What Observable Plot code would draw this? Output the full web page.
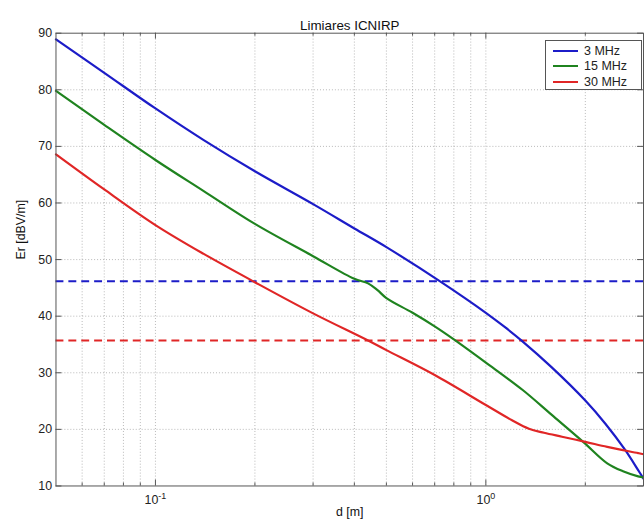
<!DOCTYPE html>
<html>
<head>
<meta charset="utf-8">
<script src="https://cdn.jsdelivr.net/npm/d3@7"></script>
<script src="https://cdn.jsdelivr.net/npm/@observablehq/plot@0.6"></script>
<style>
html, body { margin: 0; padding: 0; background: #fff; overflow: hidden; }
#wrap { position: relative; width: 644px; height: 528px; overflow: hidden; }
#wrap svg { position: absolute; left: 0; top: 0; }
.legend { position: absolute; left: 545px; top: 40px; width: 97px; height: 50px; border: 1px solid #555;
  background: #fff; box-sizing: border-box; font: 12.5px "Liberation Sans", Arial, sans-serif; color: #222; }
.legend .row { position: absolute; left: 0; width: 95px; height: 14px; line-height: 14px; }
.legend .sw { position: absolute; left: 7px; top: 6px; width: 25px; height: 2px; }
.legend .lb { position: absolute; left: 38px; top: 0; white-space: nowrap; }
</style>
</head>
<body>
<div id="wrap"></div>
<script>
// 3 MHz: distance (m) and E field (dBV/m)
const d3MHz  = [0.05, 0.07, 0.1, 0.14, 0.2, 0.3, 0.4, 0.5, 0.725, 1.0, 1.14, 1.288, 1.58, 2.0, 2.3, 2.63, 2.89, 3.0];
const e3MHz  = [88.9, 83.0, 76.7, 71.1, 65.6, 59.8, 55.5, 52.2, 46.2, 40.6, 38.1, 35.6, 31.0, 25.1, 21.0, 16.5, 12.8, 11.3];
// 15 MHz
const d15MHz = [0.05, 0.07, 0.1, 0.14, 0.2, 0.3, 0.4, 0.44, 0.47, 0.5, 0.6, 0.7, 0.8, 1.0, 1.29, 1.58, 1.97, 2.33, 2.6, 2.89, 3.0];
const e15MHz = [79.8, 73.8, 67.6, 62.1, 56.3, 50.6, 46.6, 45.8, 44.6, 43.2, 40.6, 38.2, 35.9, 31.8, 27.0, 22.6, 17.8, 14.0, 12.6, 11.7, 11.5];
// 30 MHz
const d30MHz = [0.05, 0.07, 0.1, 0.14, 0.2, 0.3, 0.44, 0.5, 0.7, 1.0, 1.2, 1.35, 1.5, 1.7, 2.0, 2.33, 2.89, 3.0];
const e30MHz = [68.6, 62.4, 56.1, 51.0, 46.0, 40.5, 35.7, 34.0, 29.6, 24.3, 21.6, 20.1, 19.4, 18.7, 17.8, 16.9, 15.8, 15.6];
const seriesNames  = ["3 MHz", "15 MHz", "30 MHz"];
const seriesColors = ["#1c1cc8", "#1f831f", "#e02626"];
// ICNIRP limits (dBV/m)
const limitValues = [46.16, 35.7];
const limitColors = ["#1c1cc8", "#e02626"];
// ticks
const yTicks = [10, 20, 30, 40, 50, 60, 70, 80, 90];
const xMajorTicks = [0.1, 1];
const xTickExponents = ["-1", "0"];
const xMinorTicks = [0.06, 0.07, 0.08, 0.09, 0.2, 0.3, 0.4, 0.5, 0.6, 0.7, 0.8, 0.9, 2];
const titleText = "Limiares ICNIRP";
const xLabelText = "d [m]";
const yLabelParts = ["E", "r", " [dBV/m]"];

const seriesD = [d3MHz, d15MHz, d30MHz];
const seriesE = [e3MHz, e15MHz, e30MHz];
const rows = seriesNames.map((s, k) => seriesD[k].map((d, i) => ({ d, e: seriesE[k][i], s })));
const limits = limitValues.map((v, i) => ({ v, c: limitColors[i] }));
const allX = [...xMinorTicks, ...xMajorTicks];

const W = 650, H = 528, ML = 56, MR = 1, MT = 33, MB = 38;
const FH = H - MT - MB, FW = W - ML - MR;
const axisColor = "#555";
const gridStyle = { stroke: "#9a9a9a", strokeOpacity: 0.7, strokeDasharray: "1,2", strokeWidth: 1 };

const chart = Plot.plot({
  width: W, height: H,
  marginLeft: ML, marginRight: MR, marginTop: MT, marginBottom: MB,
  x: { type: "log", domain: [0.05, 3] },
  y: { domain: [10, 90] },
  style: { fontFamily: "'Liberation Sans', Arial, sans-serif", fontSize: "12.5px", color: "#222", background: "#fff", overflow: "hidden" },
  marks: [
    Plot.gridX(allX, gridStyle),
    Plot.gridY(yTicks.slice(1, -1), gridStyle),
    ...limits.map(l => Plot.ruleY([l.v], { stroke: l.c, strokeWidth: 2, strokeDasharray: "8,5" })),
    ...rows.map((r, k) => Plot.line(r, { x: "d", y: "e", stroke: seriesColors[k], strokeWidth: 2.2, curve: "catmull-rom" })),
    // inward ticks
    Plot.ruleX(xMinorTicks, { stroke: axisColor, insetTop: FH - 3 }),
    Plot.ruleX(xMinorTicks, { stroke: axisColor, insetBottom: FH - 3 }),
    Plot.ruleX(xMajorTicks, { stroke: axisColor, insetTop: FH - 6 }),
    Plot.ruleX(xMajorTicks, { stroke: axisColor, insetBottom: FH - 6 }),
    Plot.ruleY(yTicks, { stroke: axisColor, insetRight: FW - 6 }),
    Plot.ruleY(yTicks, { stroke: axisColor, insetLeft: FW - 6 }),
    Plot.frame({ stroke: axisColor, strokeWidth: 1 }),
    Plot.axisY(yTicks, { tickSize: 0, tickPadding: 4, label: null, fill: "#222" }),
    Plot.axisX(xMajorTicks, { tickSize: 0, tickPadding: 9, label: null, tickFormat: () => "10", fill: "#222" }),
    Plot.text([titleText], { frameAnchor: "top", dy: -13, fill: "#111", fontSize: 13.5, ariaLabel: "title" }),
    Plot.text([xLabelText], { frameAnchor: "bottom", dy: 30, fill: "#111", ariaLabel: "xlabel" }),
    Plot.text([yLabelParts.join("")], { frameAnchor: "left", dx: -35, rotate: -90, fill: "#111", ariaLabel: "ylabel" })
  ]
});

const svg = d3.select(chart);
svg.selectAll('g[aria-label="x-axis tick label"] text').each(function (d, i) {
  const t = d3.select(this);
  t.text(null);
  t.append("tspan").text("10");
  t.append("tspan").attr("dy", "-0.55em").attr("font-size", "9px").text(xTickExponents[i]);
});
svg.selectAll('g[aria-label="ylabel"] text').each(function () {
  const t = d3.select(this);
  t.text(null);
  t.append("tspan").text(yLabelParts[0]);
  t.append("tspan").attr("dy", "0.35em").attr("font-size", "9px").text(yLabelParts[1]);
  t.append("tspan").attr("dy", "-0.35em").text(yLabelParts[2]);
});

const wrap = document.getElementById("wrap");
wrap.appendChild(chart);

const legend = document.createElement("div");
legend.className = "legend";
seriesNames.forEach((name, i) => {
  const row = document.createElement("div");
  row.className = "row";
  row.style.top = (2.5 + i * 15.5) + "px";
  const sw = document.createElement("div");
  sw.className = "sw";
  sw.style.background = seriesColors[i];
  const lb = document.createElement("div");
  lb.className = "lb";
  lb.textContent = name;
  row.appendChild(sw);
  row.appendChild(lb);
  legend.appendChild(row);
});
wrap.appendChild(legend);
</script>
</body>
</html>
